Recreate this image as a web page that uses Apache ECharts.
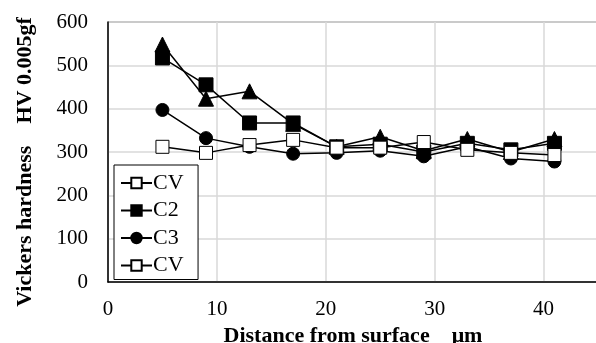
<!DOCTYPE html>
<html>
<head>
<meta charset="utf-8">
<script src="https://cdn.jsdelivr.net/npm/echarts@6/dist/echarts.min.js"></script>
<style>
  html, body { margin: 0; padding: 0; background: #fff; }
  #chart { width: 596px; height: 343px; }
</style>
</head>
<body>
<div id="chart"></div>
<script>
// distance from surface (um)
const distances = [5, 9, 13, 17, 21, 25, 29, 33, 37, 41];
const cvValues = [312, 298, 316, 328, 310, 310, 323, 305, 298, 293];
const c2Values = [517, 455, 367, 367, 312, 318, 300, 320, 305, 320];
const c3Values = [397, 332, 312, 296, 298, 303, 290, 312, 285, 278];
const triValues = [548, 423, 440, 365, 312, 335, 303, 330, 300, 330];
const legendNames = ["CV", "C2", "C3", "CV "];

const pairs = (vals) => distances.map((d, i) => [d, vals[i]]);

const font = "'Liberation Serif', 'DejaVu Serif', serif";

const base = {
  type: "line",
  lineStyle: { color: "#000", width: 1.5 },
  itemStyle: { color: "#000", borderColor: "#000", borderWidth: 1 },
  emphasis: { disabled: true }
};
const openSquare = { color: "#fff", borderColor: "#000", borderWidth: 1 };

const chart = echarts.init(document.getElementById("chart"));

chart.setOption({
  animation: false,
  grid: {
    left: 108,
    top: 22,
    right: -2,
    bottom: 61,
    outerBoundsMode: "none",
    containLabel: false,
    show: true,
    borderColor: "#444",
    borderWidth: 1
  },
  xAxis: {
    type: "value",
    min: 0,
    max: 45,
    interval: 10,
    name: "Distance from surface    \u03bcm",
    nameLocation: "middle",
    nameGap: 43,
    nameTextStyle: { fontFamily: font, fontWeight: "bold", fontSize: 22, color: "#000" },
    axisLine: { lineStyle: { color: "#000", width: 1.5 } },
    axisTick: { show: false },
    axisLabel: { fontFamily: font, fontSize: 21, color: "#000", margin: 17, showMaxLabel: false },
    splitLine: { lineStyle: { color: "#d9d9d9", width: 1.5 } }
  },
  yAxis: {
    type: "value",
    min: 0,
    max: 600,
    interval: 100,
    name: "Vickers hardness    HV 0.005gf",
    nameLocation: "middle",
    nameGap: 72,
    nameTextStyle: { fontFamily: font, fontWeight: "bold", fontSize: 22, color: "#000", padding: [0, 20, 0, 0] },
    axisLine: { show: true, lineStyle: { color: "#000", width: 1.5 } },
    axisTick: { show: false },
    axisLabel: { fontFamily: font, fontSize: 21, color: "#000", margin: 20 },
    splitLine: { lineStyle: { color: "#d9d9d9", width: 1.5 } }
  },
  legend: {
    orient: "vertical",
    left: 114,
    top: 165,
    padding: [7, 9, 3, 6],
    backgroundColor: "#fff",
    borderColor: "#000",
    borderWidth: 1,
    borderRadius: 0,
    itemWidth: 31,
    itemHeight: 13,
    itemGap: 5.5,
    textStyle: { fontFamily: font, fontSize: 22, lineHeight: 20, color: "#000", padding: [0, 0, 0, -4] },
    data: legendNames
  },
  series: [
    Object.assign({}, base, {
      name: legendNames[1],
      symbol: "rect",
      symbolSize: 14,
      data: pairs(c2Values)
    }),
    Object.assign({}, base, {
      name: "tri",
      symbol: "triangle",
      symbolSize: 15,
      data: pairs(triValues)
    }),
    Object.assign({}, base, {
      name: legendNames[2],
      symbol: "circle",
      symbolSize: 13,
      data: pairs(c3Values)
    }),
    Object.assign({}, base, {
      name: legendNames[0],
      symbol: "rect",
      symbolSize: 13,
      itemStyle: openSquare,
      data: pairs(cvValues)
    }),
    // second CV entry in the legend has no visible points of its own
    Object.assign({}, base, {
      name: legendNames[3],
      symbol: "rect",
      symbolSize: 13,
      itemStyle: openSquare,
      data: []
    })
  ]
});
</script>
</body>
</html>
